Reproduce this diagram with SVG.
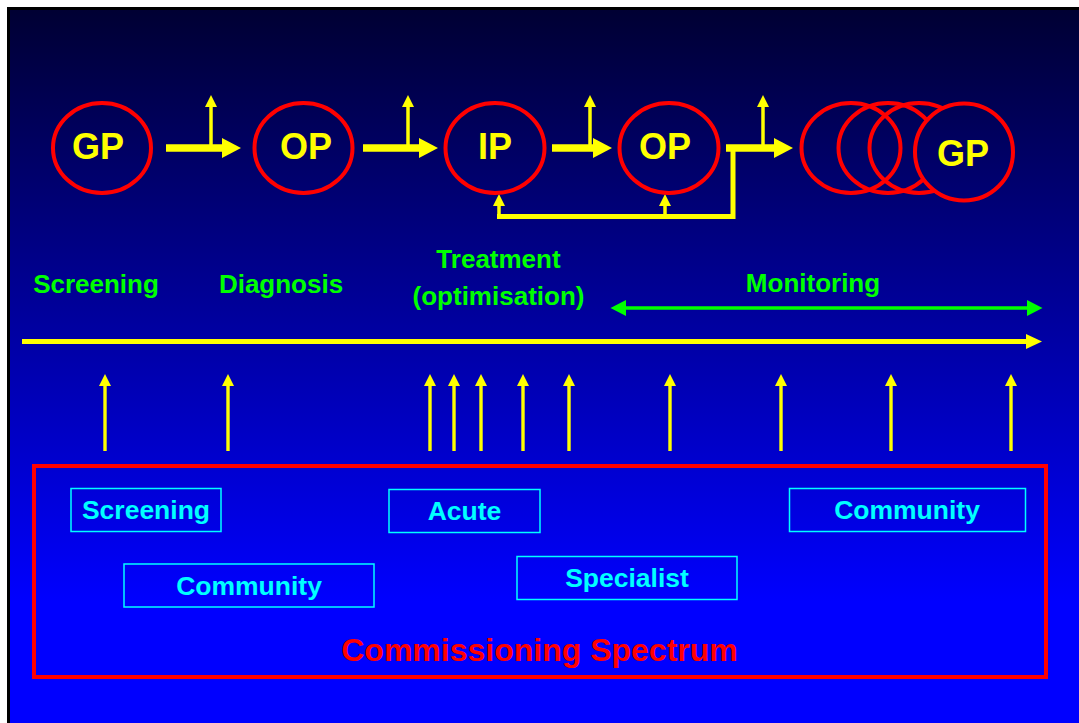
<svg xmlns="http://www.w3.org/2000/svg" width="1079" height="723" viewBox="0 0 1079 723">
<defs>
<linearGradient id="bg" gradientUnits="userSpaceOnUse" x1="0" y1="10" x2="0" y2="723">
<stop offset="0" stop-color="#000033"/>
<stop offset="0.83" stop-color="#0000ff"/>
<stop offset="1" stop-color="#0000ff"/>
</linearGradient>
<marker id="bigHead" markerUnits="userSpaceOnUse" markerWidth="20" markerHeight="20" refX="2" refY="10" orient="auto"><path d="M0,0 L19,10 L0,20 z" fill="#ffff00"/></marker>
<marker id="smallHead" markerUnits="userSpaceOnUse" markerWidth="12" markerHeight="12" refX="2" refY="6" orient="auto"><path d="M0,0 L12,6 L0,12 z" fill="#ffff00"/></marker>
<marker id="tlHead" markerUnits="userSpaceOnUse" markerWidth="16" markerHeight="15" refX="2" refY="7.5" orient="auto"><path d="M0,0 L16,7.5 L0,15 z" fill="#ffff00"/></marker>
<marker id="greenHead" markerUnits="userSpaceOnUse" markerWidth="16" markerHeight="16" refX="2" refY="8" orient="auto-start-reverse"><path d="M0,0 L15.5,8 L0,16 z" fill="#00ff00"/></marker>
</defs>
<style>
.circ{fill:none;stroke:#ff0000;stroke-width:4}
.ntext{font-family:"Liberation Sans",Arial,sans-serif;font-weight:bold;font-size:36px;fill:#ffff00;text-anchor:middle}
.glabel{font-family:"Liberation Sans",Arial,sans-serif;font-weight:bold;font-size:26px;fill:#00ff00;text-anchor:middle}
.box{fill:none;stroke:#00ffff;stroke-width:1.5}
.btext{font-family:"Liberation Sans",Arial,sans-serif;font-weight:bold;font-size:26.5px;fill:#00ffff;text-anchor:middle}
.flow{stroke:#ffff00;stroke-width:7.5;fill:none;marker-end:url(#bigHead)}
.branch{stroke:#ffff00;stroke-width:3.5;fill:none;marker-end:url(#smallHead)}
.fb{stroke:#ffff00;stroke-width:5;fill:none;stroke-linejoin:miter}
.up{stroke:#ffff00;stroke-width:3.4;fill:none;marker-end:url(#smallHead)}
</style>
<rect x="0" y="0" width="1079" height="723" fill="#ffffff"/>
<rect x="7" y="7" width="1072" height="716" fill="#000000"/>
<rect x="10" y="10" width="1069" height="713" fill="url(#bg)"/>

<g id="connectors">
<line class="flow" x1="166" y1="148" x2="224" y2="148"/>
<line class="flow" x1="363" y1="148" x2="421" y2="148"/>
<line class="flow" x1="552" y1="148" x2="595" y2="148"/>
<line class="flow" x1="726" y1="148" x2="776" y2="148"/>
<line class="branch" x1="211" y1="148" x2="211" y2="105"/>
<line class="branch" x1="408" y1="148" x2="408" y2="105"/>
<line class="branch" x1="590" y1="148" x2="590" y2="105"/>
<line class="branch" x1="763" y1="148" x2="763" y2="105"/>
<path class="fb" d="M733,145 V216.5 H497"/>
<line class="branch" x1="499" y1="216" x2="499" y2="204"/>
<line class="branch" x1="665" y1="216" x2="665" y2="204"/>
<line x1="22" y1="341.5" x2="1028" y2="341.5" stroke="#ffff00" stroke-width="5" marker-end="url(#tlHead)"/>
<line x1="624" y1="308" x2="1029" y2="308" stroke="#00ff00" stroke-width="3.5" marker-start="url(#greenHead)" marker-end="url(#greenHead)"/>
<line class="up" x1="105" y1="451" x2="105" y2="384"/>
<line class="up" x1="228" y1="451" x2="228" y2="384"/>
<line class="up" x1="430" y1="451" x2="430" y2="384"/>
<line class="up" x1="454" y1="451" x2="454" y2="384"/>
<line class="up" x1="481" y1="451" x2="481" y2="384"/>
<line class="up" x1="523" y1="451" x2="523" y2="384"/>
<line class="up" x1="569" y1="451" x2="569" y2="384"/>
<line class="up" x1="670" y1="451" x2="670" y2="384"/>
<line class="up" x1="781" y1="451" x2="781" y2="384"/>
<line class="up" x1="891" y1="451" x2="891" y2="384"/>
<line class="up" x1="1011" y1="451" x2="1011" y2="384"/>
</g>

<g id="node-gp1"><ellipse class="circ" cx="102" cy="148" rx="49" ry="45"/><text class="ntext" x="98" y="159">GP</text></g>
<g id="node-op1"><ellipse class="circ" cx="303.5" cy="148" rx="49" ry="45"/><text class="ntext" x="306" y="159">OP</text></g>
<g id="node-ip"><ellipse class="circ" cx="495" cy="148" rx="49.5" ry="45"/><text class="ntext" x="495" y="159">IP</text></g>
<g id="node-op2"><ellipse class="circ" cx="669" cy="148" rx="49.5" ry="45"/><text class="ntext" x="665" y="159">OP</text></g>
<g id="node-c1"><ellipse class="circ" cx="851" cy="148" rx="49.5" ry="45"/></g>
<g id="node-c2"><ellipse class="circ" cx="888" cy="148" rx="49.5" ry="45"/></g>
<g id="node-c3"><ellipse class="circ" cx="919" cy="148" rx="49.5" ry="45"/></g>
<g id="node-gp2"><ellipse cx="964" cy="152" rx="49" ry="48.5" fill="url(#bg)" stroke="#ff0000" stroke-width="4"/><text class="ntext" x="963" y="166">GP</text></g>

<g id="label-screening"><text class="glabel" x="96" y="293">Screening</text></g>
<g id="label-diagnosis"><text class="glabel" x="281" y="293">Diagnosis</text></g>
<g id="label-treatment"><text class="glabel" x="498.5" y="267.5">Treatment</text><text class="glabel" x="498.5" y="305">(optimisation)</text></g>
<g id="label-monitoring"><text class="glabel" x="813" y="292">Monitoring</text></g>

<g id="spectrum">
<rect x="34" y="466" width="1012" height="211" fill="none" stroke="#ff0000" stroke-width="4"/>
<text x="539.5" y="661" font-family="Liberation Sans, Arial, sans-serif" font-weight="bold" font-size="32" fill="#ff0000" text-anchor="middle">Commissioning Spectrum</text>
</g>
<g id="box-screening"><rect class="box" x="71" y="488.5" width="150" height="43"/><text class="btext" x="146" y="519">Screening</text></g>
<g id="box-acute"><rect class="box" x="389" y="489.5" width="151" height="43"/><text class="btext" x="464.5" y="520">Acute</text></g>
<g id="box-community-r"><rect class="box" x="789.5" y="488.5" width="236" height="43"/><text class="btext" x="907" y="519">Community</text></g>
<g id="box-community-l"><rect class="box" x="124" y="564" width="250" height="43"/><text class="btext" x="249" y="594.5">Community</text></g>
<g id="box-specialist"><rect class="box" x="517" y="556.5" width="220" height="43"/><text class="btext" x="627" y="586.5">Specialist</text></g>
</svg>
